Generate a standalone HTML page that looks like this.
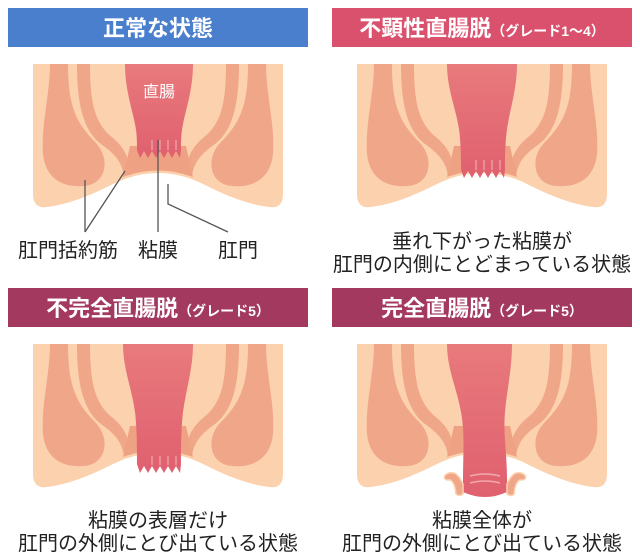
<!DOCTYPE html>
<html><head><meta charset="utf-8"><style>
html,body{margin:0;padding:0;background:#fff;}
svg{display:block;font-family:"Liberation Sans","Noto Sans CJK JP",sans-serif;}
</style></head><body>
<svg width="640" height="560" viewBox="0 0 640 560" xmlns="http://www.w3.org/2000/svg">
<defs>
<g id="base">
<path d="M0,0 H250 V130 Q250,145 236,143 C212,140 190,130 170,120 Q125,98 80,120 C60,130 38,140 14,143 Q0,145 0,130 Z" fill="#fcd1ad"/>
<path d="M17,0 H35 C35,40 42,58 62,78 C78,94 74,121 50,122 C25,124 12,110 10,90 C8,60 17,30 17,0Z" fill="#f0a688"/>
<path d="M233,0 H215 C215,40 208,58 188,78 C172,94 176,121 200,122 C225,124 238,110 240,90 C242,60 233,30 233,0Z" fill="#f0a688"/>
<path d="M44,0 H57 C57,40 62,60 80,74 C92,84 97,96 97,110 L91,112 C89,98 82,90 68,80 C50,66 44,40 44,0Z" fill="#f0a688"/>
<path d="M206,0 H193 C193,40 188,60 170,74 C158,84 153,96 153,110 L159,112 C161,98 168,90 182,80 C200,66 206,40 206,0Z" fill="#f0a688"/>
<path d="M97,82 H153 L160,113 Q125,100 90,113 Z" fill="#efa283"/>
</g>
<linearGradient id="rg" x1="0" y1="0" x2="0" y2="1"><stop offset="0" stop-color="#e87a7c"/><stop offset="1" stop-color="#e0606f"/></linearGradient>
</defs>

<rect x="8" y="8" width="300" height="39" fill="#4a7fcd"/>
<text x="158" y="36" text-anchor="middle" fill="#fff" font-size="22" font-weight="bold">正常な状態</text>
<rect x="332" y="8" width="300" height="39" fill="#da516d"/>
<text x="482" y="36" text-anchor="middle" fill="#fff" font-size="22" font-weight="bold">不顕性直腸脱<tspan font-size="14">（グレード1〜4）</tspan></text>
<rect x="8" y="288" width="300" height="39" fill="#a3395f"/>
<text x="158" y="316" text-anchor="middle" fill="#fff" font-size="22" font-weight="bold">不完全直腸脱<tspan font-size="14">（グレード5）</tspan></text>
<rect x="332" y="288" width="300" height="39" fill="#a3395f"/>
<text x="482" y="316" text-anchor="middle" fill="#fff" font-size="22" font-weight="bold">完全直腸脱<tspan font-size="14">（グレード5）</tspan></text>

<!-- panel 1 -->
<g transform="translate(33,64)">
<use href="#base"/>
<path d="M92,0 H160 C160,25 153,45 150,60 C148,70 148,76 148,86 L147,94 L143,87 L139,94 L135,87 L131,94 L127,87 L123,94 L119,87 L115,94 L111,87 L107,94 L104,86 C104,76 104,70 102,60 C99,45 92,25 92,0Z" fill="url(#rg)"/>
<text x="126" y="33" text-anchor="middle" fill="#fff" font-size="16">直腸</text>
<g stroke="#f6b7b7" stroke-width="1"><line x1="119" y1="76" x2="119" y2="86"/><line x1="127" y1="76" x2="127" y2="86"/><line x1="135" y1="76" x2="135" y2="86"/><line x1="143" y1="76" x2="143" y2="86"/></g>
<g stroke="#555" stroke-width="1.3" fill="none">
<line x1="52" y1="116" x2="52" y2="168"/>
<line x1="92" y1="107" x2="52" y2="168"/>
<line x1="125" y1="76" x2="125" y2="168"/>
<polyline points="135,120 135,140 195,168"/>
</g>
</g>
<text x="68" y="257" text-anchor="middle" fill="#222" font-size="20">肛門括約筋</text>
<text x="158" y="257" text-anchor="middle" fill="#222" font-size="20">粘膜</text>
<text x="238" y="257" text-anchor="middle" fill="#222" font-size="20">肛門</text>

<!-- panel 2 -->
<g transform="translate(357,64)">
<use href="#base"/>
<path d="M90,0 H160 C160,25 153,45 150,65 C148,80 148,96 148,106 L147,114 L143,107 L139,114 L135,107 L131,114 L127,107 L123,114 L119,107 L115,114 L111,107 L107,114 L104,106 C104,96 104,80 102,65 C99,45 90,25 90,0Z" fill="url(#rg)"/>
<g stroke="#f6b7b7" stroke-width="1"><line x1="119" y1="96" x2="119" y2="106"/><line x1="127" y1="96" x2="127" y2="106"/><line x1="135" y1="96" x2="135" y2="106"/><line x1="143" y1="96" x2="143" y2="106"/></g>
</g>
<text x="482" y="248" text-anchor="middle" fill="#222" font-size="20">垂れ下がった粘膜が</text>
<text x="482" y="271" text-anchor="middle" fill="#222" font-size="20">肛門の内側にとどまっている状態</text>

<!-- panel 3 -->
<g transform="translate(33,344)">
<use href="#base"/>
<path d="M90,0 H160 C160,25 153,45 150,68 C148,85 148,106 148,120 L147,129 L143,122 L139,129 L135,122 L131,129 L127,122 L123,129 L119,122 L115,129 L111,122 L107,129 L104,120 C104,106 104,85 102,68 C99,45 90,25 90,0Z" fill="url(#rg)"/>
<g stroke="#f6b7b7" stroke-width="1"><line x1="119" y1="112" x2="119" y2="121"/><line x1="127" y1="112" x2="127" y2="121"/><line x1="135" y1="112" x2="135" y2="121"/><line x1="143" y1="112" x2="143" y2="121"/></g>
</g>
<text x="158" y="527" text-anchor="middle" fill="#222" font-size="20">粘膜の表層だけ</text>
<text x="158" y="550" text-anchor="middle" fill="#222" font-size="20">肛門の外側にとび出ている状態</text>

<!-- panel 4 -->
<g transform="translate(357,344)">
<use href="#base"/>
<path d="M90,0 H155 C155,25 150,45 148,68 C146,90 150,110 150,135 L150,148 Q128,158 106,148 L106,135 C106,110 108,90 104,68 C100,45 90,25 90,0Z" fill="url(#rg)"/>
<g stroke="#f3a9ab" stroke-width="1.5" fill="none"><path d="M113,132 Q128,128 143,132"/><path d="M113,139 Q128,135 143,139"/></g>
<g fill="#f0a688" stroke="#fcd1ad" stroke-width="1.5">
<path d="M106,140 C101,130 98,128 92,129 C86,131 86,136 91,136 C95,135 98,140 99,150 Q102,153 106,150Z"/>
<path d="M150,140 C155,130 158,128 164,129 C170,131 170,136 165,136 C161,135 158,140 157,150 Q154,153 150,150Z"/>
</g>
</g>
<text x="482" y="527" text-anchor="middle" fill="#222" font-size="20">粘膜全体が</text>
<text x="482" y="550" text-anchor="middle" fill="#222" font-size="20">肛門の外側にとび出ている状態</text>
</svg>
</body></html>
